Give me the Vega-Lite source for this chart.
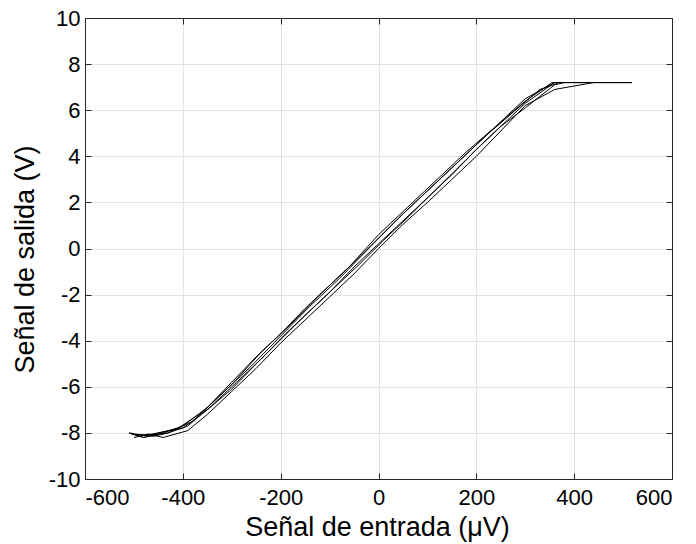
{
  "$schema": "https://vega.github.io/schema/vega-lite/v6.json",
  "width": 587,
  "height": 461,
  "autosize": {"type": "none"},
  "padding": {"left": 85, "top": 18, "right": 24, "bottom": 65},
  "background": "white",
  "config": {
    "view": {"stroke": null},
    "font": "Liberation Sans",
    "axis": {
      "labelFont": "Liberation Sans",
      "titleFont": "Liberation Sans",
      "labelColor": "black",
      "titleColor": "black",
      "labelFontSize": 22,
      "titleFontSize": 27,
      "titleFontWeight": "normal",
      "domainColor": "#262626",
      "tickColor": "#262626",
      "gridColor": "#e3e3e3",
      "gridWidth": 1,
      "tickSize": -6,
      "domainWidth": 1,
      "labelExpr": "'' + datum.value"
    }
  },
  "data": {"values": [
    {"t":1,"i":0,"x":-505,"y":-8.05},{"t":1,"i":1,"x":-460,"y":-8.15},{"t":1,"i":2,"x":-430,"y":-8.0},{"t":1,"i":3,"x":-390,"y":-7.7},{"t":1,"i":4,"x":-340,"y":-6.8},{"t":1,"i":5,"x":-290,"y":-5.8},{"t":1,"i":6,"x":-240,"y":-4.8},{"t":1,"i":7,"x":-190,"y":-3.7},{"t":1,"i":8,"x":-140,"y":-2.7},{"t":1,"i":9,"x":-90,"y":-1.7},{"t":1,"i":10,"x":-40,"y":-0.7},{"t":1,"i":11,"x":10,"y":0.35},{"t":1,"i":12,"x":60,"y":1.35},{"t":1,"i":13,"x":110,"y":2.4},{"t":1,"i":14,"x":160,"y":3.45},{"t":1,"i":15,"x":210,"y":4.5},{"t":1,"i":16,"x":260,"y":5.5},{"t":1,"i":17,"x":300,"y":6.3},{"t":1,"i":18,"x":360,"y":7.2},{"t":1,"i":19,"x":440,"y":7.2},{"t":1,"i":20,"x":518,"y":7.2},
    {"t":2,"i":0,"x":518,"y":7.2},{"t":2,"i":1,"x":440,"y":7.2},{"t":2,"i":2,"x":360,"y":7.2},{"t":2,"i":3,"x":300,"y":6.5},{"t":2,"i":4,"x":250,"y":5.5},{"t":2,"i":5,"x":200,"y":4.5},{"t":2,"i":6,"x":150,"y":3.5},{"t":2,"i":7,"x":100,"y":2.5},{"t":2,"i":8,"x":50,"y":1.5},{"t":2,"i":9,"x":0,"y":0.45},{"t":2,"i":10,"x":-50,"y":-0.6},{"t":2,"i":11,"x":-100,"y":-1.6},{"t":2,"i":12,"x":-150,"y":-2.6},{"t":2,"i":13,"x":-200,"y":-3.7},{"t":2,"i":14,"x":-250,"y":-4.7},{"t":2,"i":15,"x":-300,"y":-5.8},{"t":2,"i":16,"x":-350,"y":-6.9},{"t":2,"i":17,"x":-400,"y":-7.7},{"t":2,"i":18,"x":-440,"y":-8.0},{"t":2,"i":19,"x":-480,"y":-8.2},{"t":2,"i":20,"x":-510,"y":-8.0},
    {"t":3,"i":0,"x":-500,"y":-8.2},{"t":3,"i":1,"x":-470,"y":-8.05},{"t":3,"i":2,"x":-440,"y":-8.2},{"t":3,"i":3,"x":-390,"y":-7.9},{"t":3,"i":4,"x":-350,"y":-7.2},{"t":3,"i":5,"x":-300,"y":-6.2},{"t":3,"i":6,"x":-250,"y":-5.2},{"t":3,"i":7,"x":-200,"y":-4.1},{"t":3,"i":8,"x":-150,"y":-3.1},{"t":3,"i":9,"x":-100,"y":-2.1},{"t":3,"i":10,"x":-50,"y":-1.1},{"t":3,"i":11,"x":0,"y":0.0},{"t":3,"i":12,"x":50,"y":1.05},{"t":3,"i":13,"x":100,"y":2.0},{"t":3,"i":14,"x":150,"y":3.0},{"t":3,"i":15,"x":200,"y":4.0},{"t":3,"i":16,"x":250,"y":5.1},{"t":3,"i":17,"x":300,"y":6.2},{"t":3,"i":18,"x":360,"y":6.9},{"t":3,"i":19,"x":440,"y":7.2},{"t":3,"i":20,"x":518,"y":7.2},
    {"t":4,"i":0,"x":518,"y":7.2},{"t":4,"i":1,"x":400,"y":7.2},{"t":4,"i":2,"x":355,"y":7.2},{"t":4,"i":3,"x":300,"y":6.4},{"t":4,"i":4,"x":240,"y":5.3},{"t":4,"i":5,"x":180,"y":4.2},{"t":4,"i":6,"x":120,"y":3.0},{"t":4,"i":7,"x":60,"y":1.8},{"t":4,"i":8,"x":0,"y":0.6},{"t":4,"i":9,"x":-60,"y":-0.8},{"t":4,"i":10,"x":-120,"y":-2.0},{"t":4,"i":11,"x":-180,"y":-3.3},{"t":4,"i":12,"x":-240,"y":-4.5},{"t":4,"i":13,"x":-300,"y":-5.9},{"t":4,"i":14,"x":-360,"y":-7.1},{"t":4,"i":15,"x":-410,"y":-7.8},{"t":4,"i":16,"x":-450,"y":-8.0},{"t":4,"i":17,"x":-490,"y":-8.15},{"t":4,"i":18,"x":-505,"y":-8.0},
    {"t":5,"i":0,"x":-510,"y":-8.0},{"t":5,"i":1,"x":-480,"y":-8.2},{"t":5,"i":2,"x":-450,"y":-8.0},{"t":5,"i":3,"x":-400,"y":-7.8},{"t":5,"i":4,"x":-350,"y":-7.0},{"t":5,"i":5,"x":-300,"y":-6.1},{"t":5,"i":6,"x":-250,"y":-5.0},{"t":5,"i":7,"x":-200,"y":-3.95},{"t":5,"i":8,"x":-150,"y":-2.9},{"t":5,"i":9,"x":-100,"y":-1.9},{"t":5,"i":10,"x":-50,"y":-0.8},{"t":5,"i":11,"x":0,"y":0.2},{"t":5,"i":12,"x":50,"y":1.2},{"t":5,"i":13,"x":100,"y":2.2},{"t":5,"i":14,"x":150,"y":3.2},{"t":5,"i":15,"x":200,"y":4.3},{"t":5,"i":16,"x":250,"y":5.3},{"t":5,"i":17,"x":300,"y":6.1},{"t":5,"i":18,"x":360,"y":7.1},{"t":5,"i":19,"x":380,"y":7.2},{"t":5,"i":20,"x":518,"y":7.2},
    {"t":6,"i":0,"x":518,"y":7.2},{"t":6,"i":1,"x":370,"y":7.2},{"t":6,"i":2,"x":330,"y":6.9},{"t":6,"i":3,"x":280,"y":6.0},{"t":6,"i":4,"x":220,"y":4.9},{"t":6,"i":5,"x":160,"y":3.7},{"t":6,"i":6,"x":100,"y":2.5},{"t":6,"i":7,"x":40,"y":1.3},{"t":6,"i":8,"x":-20,"y":0.0},{"t":6,"i":9,"x":-80,"y":-1.3},{"t":6,"i":10,"x":-140,"y":-2.5},{"t":6,"i":11,"x":-200,"y":-3.8},{"t":6,"i":12,"x":-260,"y":-5.1},{"t":6,"i":13,"x":-320,"y":-6.3},{"t":6,"i":14,"x":-380,"y":-7.5},{"t":6,"i":15,"x":-430,"y":-8.0},{"t":6,"i":16,"x":-470,"y":-8.1},{"t":6,"i":17,"x":-500,"y":-8.05}
  ]},
  "layer": [
    {
      "mark": {"type": "line", "color": "black", "strokeWidth": 1},
      "encoding": {
        "x": {"field": "x", "type": "quantitative", "scale": {"domain": [-600, 600], "nice": false},
              "axis": {"orient": "bottom", "values": [-600,-400,-200,0,200,400,600], "title": "Señal de entrada (μV)", "labelPadding": 14, "titleX": 292, "titleY": 56, "titleBaseline": "alphabetic", "titleAnchor": "middle", "titleAlign": "center"}},
        "y": {"field": "y", "type": "quantitative", "scale": {"domain": [-10, 10], "nice": false},
              "axis": {"orient": "left", "values": [-10,-8,-6,-4,-2,0,2,4,6,8,10], "title": "Señal de salida (V)", "labelPadding": 11, "titleX": -52, "titleY": 241, "titleBaseline": "alphabetic", "titleAngle": -90, "titleAlign": "center"}},
        "detail": {"field": "t", "type": "nominal"},
        "order": {"field": "i", "type": "quantitative"}
      }
    },
    {
      "mark": {"type": "line", "opacity": 0},
      "encoding": {
        "x": {"field": "x", "type": "quantitative", "axis": {"orient": "top", "values": [-600,-400,-200,0,200,400,600], "labels": false, "grid": false, "title": null}},
        "y": {"field": "y", "type": "quantitative", "axis": {"orient": "right", "values": [-10,-8,-6,-4,-2,0,2,4,6,8,10], "labels": false, "grid": false, "title": null}},
        "detail": {"field": "t", "type": "nominal"},
        "order": {"field": "i", "type": "quantitative"}
      }
    }
  ],
  "resolve": {"axis": {"x": "independent", "y": "independent"}}
}
